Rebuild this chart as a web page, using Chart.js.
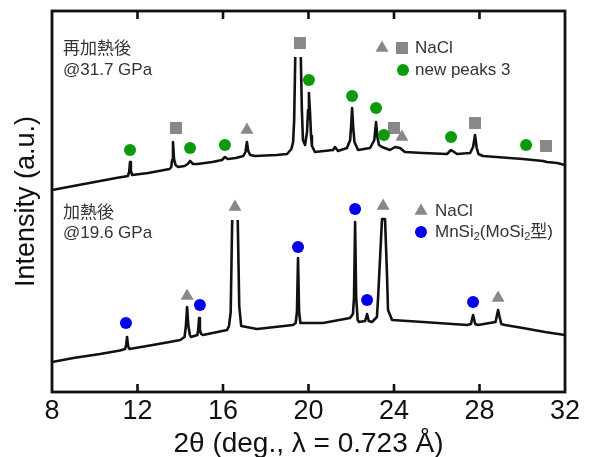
<!DOCTYPE html>
<html>
<head>
<meta charset="utf-8">
<script src="https://cdn.jsdelivr.net/npm/chart.js@4.4.1/dist/chart.umd.min.js"></script>
<style>
  body { margin: 0; background: #fff; }
  canvas { display: block; }
</style>
</head>
<body>
<canvas id="xrd" width="590" height="457"></canvas>
<script>
// upper pattern: re-heated, 31.7 GPa (null = peak runs off the top, left open)
let upperTheta = [8.0, 9.0, 10.0, 11.0, 11.55, 11.61, 11.65, 11.69, 11.75, 12.5, 13.0, 13.5, 13.58, 13.62, 13.66, 13.71, 13.78, 13.9,
  14.2, 14.35, 14.46, 14.6, 14.8, 15.5, 15.95, 16.09, 16.22, 16.6, 16.95, 17.05, 17.12, 17.18, 17.27, 17.5, 18.5, 19.0,
  19.2, 19.28, 19.33, 19.38, 19.51, 19.64, 19.69, 19.74, 19.84, 19.93, 19.98, 20.02, 20.07, 20.12, 20.16, 20.3, 21.15, 21.24, 21.38,
  21.8, 21.95, 22.0, 22.04, 22.09, 22.15, 22.32, 22.88, 23.08, 23.16, 23.22, 23.3, 23.44, 23.81, 24.05, 24.28, 24.51, 25.36,
  26.48, 26.67, 26.95, 27.56, 27.7, 27.79, 27.87, 27.95, 28.16, 30.03, 30.97, 31.16, 31.63, 32.0];
let upperInt = [202, 206, 210, 214, 216, 220, 230, 221, 217, 219, 221, 223, 225, 232, 250, 233, 227, 225,
  226, 228, 231, 228, 228, 230, 232, 235, 233, 234, 236, 240, 250, 241, 237, 236, 237, 238,
  243, 250, 272, 335, null, 335, 282, 252, 247, 260, 282, 299, 280, 256, 246, 240, 242, 245, 241,
  244, 252, 268, 284, 265, 250, 242, 244, 252, 270, 255, 247, 245, 242, 245, 244, 240, 239,
  238, 242, 238, 239, 245, 257, 244, 238, 236, 233, 231, 230, 229, 227];

// lower pattern: heated, 19.6 GPa
let lowerTheta = [8.0, 9.0, 10.25, 11.18, 11.42, 11.47, 11.51, 11.56, 11.62, 12.58, 13.5, 14.0, 14.2, 14.26, 14.32, 14.38, 14.45, 14.5,
  14.8, 14.84, 14.88, 14.92, 14.98, 15.06, 16.19, 16.28, 16.36, 16.43, 16.56, 16.69, 16.76, 16.85, 17.59, 19.27, 19.4, 19.46, 19.51,
  19.56, 19.62, 20.68, 21.94, 22.08, 22.13, 22.18, 22.23, 22.3, 22.36, 22.65, 22.74, 22.82, 22.97, 23.2, 23.25, 23.39, 23.44,
  23.58, 23.67, 23.72, 23.91, 25.36, 27.42, 27.6, 27.7, 27.8, 27.93, 28.75, 28.81, 28.87, 28.94, 29.02, 29.19, 30.03, 31.06, 32.0];
let lowerInt = [30, 34, 38, 41.5, 43, 47, 55, 46, 43, 46.5, 50, 52, 55, 65, 85, 66, 57, 55,
  57, 62, 74, 62, 58, 57, 62, 66, 80, 172, null, 172, 86, 66, 63, 67, 69, 80, 134,
  80, 69, 69, 74, 78, 95, 170, 95, 72, 70, 71, 78, 71, 70, 75, 92, 152, 173,
  173, 119, 82, 72, 70, 67, 68, 77, 68, 67, 70, 76, 82, 75, 68, 67, 64, 60, 57];

// peak markers
let greenX = [11.65, 14.46, 16.09, 20.02, 22.04, 23.16, 23.53, 26.67, 30.18];
let greenY = [242, 244, 247, 312, 296, 284, 257, 255, 247];
let squareX = [13.80, 19.60, 24.00, 27.79, 31.11];
let squareY = [264, 349, 264, 269, 246];
let triUpX = [17.12, 24.37];
let triUpY = [262, 255];
let blueX = [11.46, 14.92, 19.51, 22.18, 22.74, 27.70];
let blueY = [69, 87, 145, 183, 92, 90];
let triLowX = [14.32, 16.56, 23.49, 28.87];
let triLowY = [96, 185, 186, 94];

let xTicks = [8, 12, 16, 20, 24, 28, 32];

const GRAY = "#888888";
const GREEN = "#0a9a0a";
const BLUE = "#0000ee";
const INK = "#111111";
const LABEL = "#333333";

function pts(xs, ys) {
  let out = [];
  for (let i = 0; i < xs.length; i++) out.push({ x: xs[i], y: ys[i] });
  return out;
}

function marker(data, style, color, r) {
  return {
    type: "scatter",
    data: data,
    showLine: false,
    pointStyle: style,
    pointRadius: r,
    pointHoverRadius: r,
    pointBackgroundColor: color,
    pointBorderColor: color,
    pointBorderWidth: 0,
  };
}

function curve(data) {
  return {
    type: "line",
    data: data,
    borderColor: INK,
    borderWidth: 2.6,
    pointRadius: 0,
    tension: 0,
    spanGaps: false,
    borderJoinStyle: "round",
    fill: false,
  };
}

//! frame, inside ticks and the two legends/labels
const decor = {
  id: "decor",
  afterDraw(chart) {
    const ctx = chart.ctx;
    const a = chart.chartArea;
    const xs = chart.scales.x;
    ctx.save();
    ctx.strokeStyle = INK;
    ctx.lineWidth = 2.6;
    xTicks.slice(1, -1).forEach((v) => {
      const px = xs.getPixelForValue(v);
      ctx.beginPath();
      ctx.moveTo(px, a.bottom);
      ctx.lineTo(px, a.bottom - 8);
      ctx.moveTo(px, a.top);
      ctx.lineTo(px, a.top + 8);
      ctx.stroke();
    });
    ctx.lineWidth = 2.8;
    ctx.strokeRect(a.left, a.top, a.right - a.left, a.bottom - a.top);

    const f = "17px 'Liberation Sans', 'Noto Sans CJK JP', sans-serif";
    ctx.fillStyle = LABEL;
    ctx.font = f;
    ctx.textBaseline = "middle";
    ctx.textAlign = "left";
    ctx.fillText("再加熱後", 63, 49);
    ctx.fillText("@31.7 GPa", 63, 70);
    ctx.fillText("加熱後", 63, 213);
    ctx.fillText("@19.6 GPa", 63, 233);

    // legend 1
    tri(ctx, 382, 48, 7.5, GRAY);
    square(ctx, 402, 48, 12, GRAY);
    dot(ctx, 403, 70, 6, GREEN);
    ctx.fillStyle = LABEL;
    ctx.fillText("NaCl", 415, 48);
    ctx.fillText("new peaks 3", 415, 70);

    // legend 2
    tri(ctx, 421, 211, 7.5, GRAY);
    dot(ctx, 421, 232, 6, BLUE);
    ctx.fillStyle = LABEL;
    ctx.fillText("NaCl", 435, 211);
    let x = 435;
    [["MnSi", 0], ["2", 1], ["(MoSi", 0], ["2", 1], ["型)", 0]].forEach(([t, sub]) => {
      ctx.font = sub ? "11px 'Liberation Sans', sans-serif" : f;
      ctx.fillText(t, x, sub ? 237 : 232);
      x += ctx.measureText(t).width;
    });
    ctx.restore();
  },
};

function tri(ctx, x, y, r, c) {
  ctx.fillStyle = c;
  ctx.beginPath();
  ctx.moveTo(x, y - r);
  ctx.lineTo(x + r * 0.866, y + r / 2);
  ctx.lineTo(x - r * 0.866, y + r / 2);
  ctx.closePath();
  ctx.fill();
}
function square(ctx, x, y, s, c) {
  ctx.fillStyle = c;
  ctx.fillRect(x - s / 2, y - s / 2, s, s);
}
function dot(ctx, x, y, r, c) {
  ctx.fillStyle = c;
  ctx.beginPath();
  ctx.arc(x, y, r, 0, Math.PI * 2);
  ctx.fill();
}

new Chart(document.getElementById("xrd"), {
  data: {
    datasets: [
      marker(pts(greenX, greenY), "circle", GREEN, 6),
      marker(pts(blueX, blueY), "circle", BLUE, 6),
      marker(pts(squareX, squareY), "rect", GRAY, 8.5),
      marker(pts(triUpX, triUpY), "triangle", GRAY, 7.5),
      marker(pts(triLowX, triLowY), "triangle", GRAY, 7.5),
      curve(pts(upperTheta, upperInt)),
      curve(pts(lowerTheta, lowerInt)),
    ],
  },
  options: {
    responsive: false,
    animation: false,
    devicePixelRatio: 1,
    layout: { padding: { left: 0, right: 25, top: 11, bottom: 0 } },
    plugins: { legend: { display: false }, tooltip: { enabled: false } },
    scales: {
      x: {
        type: "linear",
        min: 8,
        max: 32,
        afterBuildTicks: (s) => { s.ticks = xTicks.map((v) => ({ value: v })); },
        afterFit: (s) => { s.height = 65; },
        grid: { display: false, drawTicks: false },
        border: { display: false },
        ticks: { color: INK, padding: 3, font: { family: "'Liberation Sans'", size: 27 } },
        title: {
          display: true,
          text: "2θ (deg., λ = 0.723 Å)",
          color: INK,
          padding: { top: 0, bottom: -4 },
          font: { family: "'Liberation Sans'", size: 28 },
        },
      },
      y: {
        min: 0,
        max: 381,
        afterFit: (s) => { s.width = 52; },
        grid: { display: false, drawTicks: false },
        border: { display: false },
        ticks: { display: false },
        title: {
          display: true,
          text: "Intensity (a.u.)",
          color: INK,
          padding: { top: 10, bottom: 0 },
          font: { family: "'Liberation Sans'", size: 27 },
        },
      },
    },
  },
  plugins: [decor],
});
</script>
</body>
</html>
